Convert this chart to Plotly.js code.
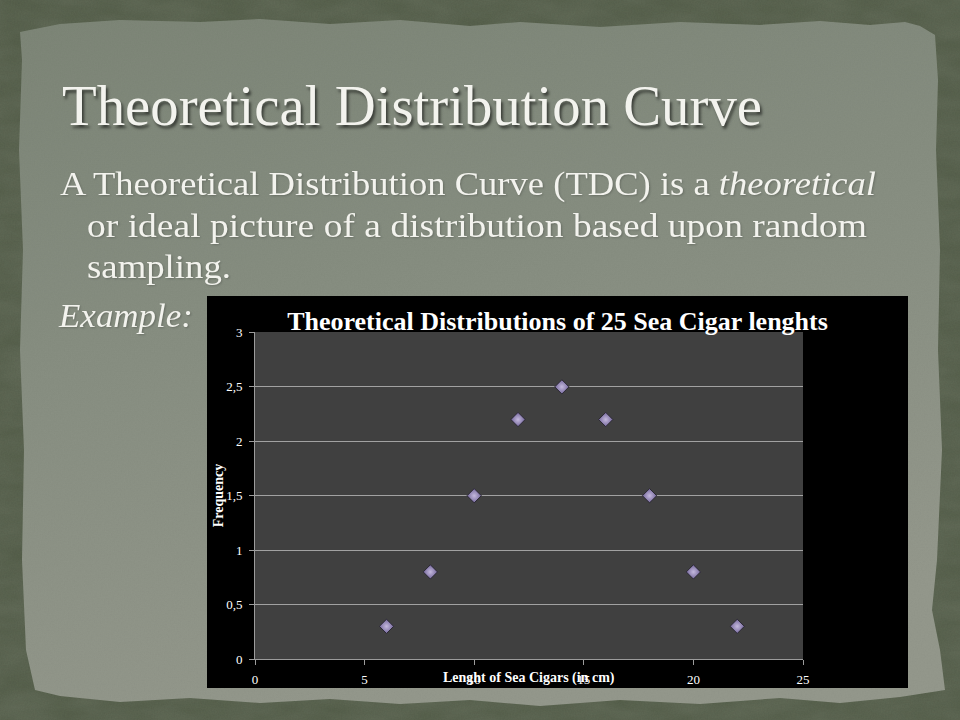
<!DOCTYPE html>
<html>
<head>
<meta charset="utf-8">
<script src="https://cdn.plot.ly/plotly-3.0.1.min.js"></script>
<style>
  html, body { margin:0; padding:0; width:960px; height:720px; overflow:hidden; background:#535d48; }
  #bg { position:absolute; left:0; top:0; }
  .txt { position:absolute; white-space:nowrap; font-family:"Liberation Serif", serif; color:#f3f3ee; line-height:1; transform-origin:0 0; }
  .title { font-size:57px; text-shadow: 2px 3px 3px rgba(0,0,0,0.55); }
  .body { font-size:33px; text-shadow: 1px 1px 2px rgba(0,0,0,0.2); }
  #chart { position:absolute; left:207px; top:296px; width:701px; height:392px; }
</style>
</head>
<body>
<svg id="bg" width="960" height="720" xmlns="http://www.w3.org/2000/svg">
  <defs>
    <filter id="noise" x="0" y="0" width="100%" height="100%">
      <feTurbulence type="fractalNoise" baseFrequency="0.7" numOctaves="2" seed="4"/>
      <feColorMatrix type="matrix" values="0 0 0 0 0  0 0 0 0 0  0 0 0 0 0  0 0 0 0.25 0" />
    </filter>
    <filter id="noise2" x="0" y="0" width="100%" height="100%">
      <feTurbulence type="fractalNoise" baseFrequency="0.02 0.05" numOctaves="3" seed="9"/>
      <feColorMatrix type="matrix" values="0 0 0 0 0.25  0 0 0 0 0.28  0 0 0 0 0.22  0 0 0 0.3 0" />
    </filter>
    <linearGradient id="pg" x1="0" y1="0" x2="0.3" y2="1">
      <stop offset="0" stop-color="#7d8677"/>
      <stop offset="0.5" stop-color="#899083"/>
      <stop offset="1" stop-color="#95998d"/>
    </linearGradient>
    <clipPath id="pc">
      <polygon points="20,32 60,24 120,20 200,22 260,19 330,24 400,20 470,26 520,22 600,27 680,22 760,25 820,21 870,25 905,22 920,26 935,35 938,80 936,150 940,250 938,350 942,450 937,560 932,610 940,650 945,690 900,697 840,703 780,698 700,704 620,700 540,706 470,700 400,704 330,699 260,703 190,698 120,702 60,696 35,690 26,650 22,560 24,450 20,350 23,250 19,150 22,60"/>
    </clipPath>
  </defs>
  <rect width="960" height="720" fill="#56604b"/>
  <rect width="960" height="720" filter="url(#noise2)"/>
  <rect width="960" height="720" filter="url(#noise)" opacity="0.35"/>
  <g clip-path="url(#pc)">
    <rect width="960" height="720" fill="url(#pg)"/>
    <rect width="960" height="720" filter="url(#noise)" opacity="0.15"/>
  </g>
</svg>

<div class="txt title" data-w="700" style="left:62px; top:77px;">Theoretical Distribution Curve</div>
<div class="txt body" data-w="816" style="left:60px; top:168px;">A Theoretical Distribution Curve (TDC) is a <i>theoretical</i></div>
<div class="txt body" data-w="780" style="left:87px; top:210px;">or ideal picture of a distribution based upon random</div>
<div class="txt body" data-w="144" style="left:87px; top:251px;">sampling.</div>
<div class="txt body" data-w="134" style="left:59px; top:300px;"><i>Example:</i></div>

<div id="chart"></div>

<script>
// ---- data ----
const lengths   = [6, 8, 10, 12, 14, 16, 18, 20, 22];
const frequency = [0.3, 0.8, 1.5, 2.2, 2.5, 2.2, 1.5, 0.8, 0.3];
const xTickVals = [0, 5, 10, 15, 20, 25];
const yTickVals = [0, 0.5, 1, 1.5, 2, 2.5, 3];
const chartTitle = "Theoretical Distributions of 25 Sea Cigar lenghts";
const xTitle = "Lenght of Sea Cigars (in cm)";
const yTitle = "Frequency";

function fitText() {
  document.querySelectorAll('.txt[data-w]').forEach(el => {
    el.style.transform = 'none';
    const w = el.getBoundingClientRect().width;
    const target = parseFloat(el.dataset.w);
    if (w > 0) el.style.transform = 'scaleX(' + (target / w) + ')';
  });
}
fitText();
if (document.fonts && document.fonts.ready) document.fonts.ready.then(fitText);

const tickFont = { family: "Liberation Serif, serif", size: 13, color: "#ffffff" };

const trace = {
  type: "scatter",
  mode: "markers",
  x: lengths,
  y: frequency,
  marker: {
    symbol: "diamond",
    size: 11,
    color: "#74679a",
    gradient: { type: "radial", color: "#c4b9de" },
    line: { color: "#2a2733", width: 1 }
  },
  hoverinfo: "x+y"
};

const layout = {
  width: 701,
  height: 392,
  paper_bgcolor: "#000000",
  plot_bgcolor: "#404040",
  margin: { l: 48, r: 105, t: 36, b: 29, pad: 0 },
  separators: ", ",
  showlegend: false,
  title: {
    text: "<b>" + chartTitle + "</b>",
    font: { family: "Liberation Serif, serif", size: 26, color: "#ffffff" },
    x: 0.5, xref: "container", xanchor: "center",
    y: 0.936, yref: "container", yanchor: "middle"
  },
  xaxis: {
    range: [0, 25],
    tickvals: xTickVals,
    showgrid: false,
    zeroline: false,
    showline: true,
    linecolor: "#9c9c9c",
    linewidth: 1,
    ticks: "outside",
    ticklen: 5,
    tickcolor: "#9c9c9c",
    tickfont: tickFont,
    ticklabelstandoff: 3,
    fixedrange: true
  },
  yaxis: {
    range: [0, 3.004],
    tickvals: yTickVals,
    showgrid: true,
    gridcolor: "#a2a2a2",
    gridwidth: 1,
    zeroline: false,
    showline: true,
    linecolor: "#9c9c9c",
    linewidth: 1,
    ticks: "outside",
    ticklen: 5,
    tickcolor: "#9c9c9c",
    tickfont: tickFont,
    ticklabelstandoff: 4,
    fixedrange: true
  },
  annotations: [
    {
      text: "<b>" + xTitle + "</b>",
      xref: "paper", yref: "paper",
      x: 0.5, y: -0.058, xanchor: "center", yanchor: "middle",
      showarrow: false,
      font: { family: "Liberation Serif, serif", size: 14, color: "#ffffff" }
    },
    {
      text: "<b>" + yTitle + "</b>",
      xref: "paper", yref: "paper",
      x: -0.066, y: 0.5, xanchor: "center", yanchor: "middle",
      textangle: -90,
      showarrow: false,
      font: { family: "Liberation Serif, serif", size: 14, color: "#ffffff" }
    }
  ]
};

Plotly.newPlot("chart", [trace], layout, { displayModeBar: false, staticPlot: true });
</script>
</body>
</html>
